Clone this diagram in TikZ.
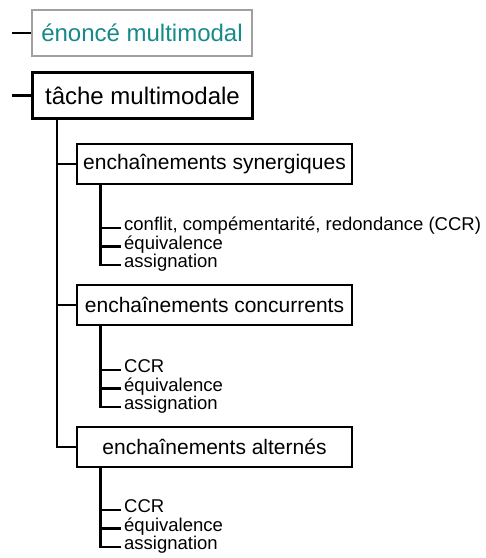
\documentclass[tikz,border=0pt]{standalone}
\usepackage{fontspec}
\setmainfont{Liberation Sans}
\definecolor{tealtext}{RGB}{22,138,138}
\definecolor{boxgray}{RGB}{160,160,160}
\begin{document}
\begin{tikzpicture}[x=1pt,y=-1pt,
  conn/.style={line width=2.4pt},
  topbox/.style={draw, line width=2.8pt, minimum width=220pt, minimum height=46pt, inner sep=0pt, font=\fontsize{24}{28}\selectfont},
  graybox/.style={topbox, draw=boxgray, line width=2.2pt, text=tealtext},
  midbox/.style={draw, line width=2.8pt, minimum width=275pt, minimum height=40pt, inner sep=0pt, font=\fontsize{21}{25}\selectfont},
  item/.style={anchor=mid west, inner xsep=3pt, inner ysep=0pt, font=\fontsize{18.5}{22}\selectfont}]
\useasboundingbox (0,0) rectangle (486,558);
% top level
\node[graybox] (enonce) at (142,33) {énoncé multimodal};
\coordinate (enl) at (12,33);
\draw[conn] (enl) -- (enonce.west);
\node[topbox] (tache) at (142.5,95.5) {tâche multimodale};
\coordinate (tl) at (12,95.5);
\draw[conn] (tl) -- (tache.west);
% second level
\node[midbox] (syn) at (214.5,164) {enchaînements synergiques};
\node[midbox] (conc) at (214.5,305) {enchaînements concurrents};
\node[midbox] (alt) at (214.5,447) {enchaînements alternés};
\coordinate (trunk) at ([xshift=26pt]tache.south west);
\draw[conn] (trunk) |- (alt.west);
\draw[conn] (trunk |- syn.west) -- (syn.west);
\draw[conn] (trunk |- conc.west) -- (conc.west);
% synergiques items
\node[item] (s1) at (121,228) {conflit, compémentarité, redondance (CCR)};
\node[item] (s2) at (121,246.5) {équivalence};
\node[item] (s3) at (121,265) {assignation};
\coordinate (st) at ([xshift=25pt]syn.south west);
\draw[conn] (st) |- (s3.mid west);
\draw[conn] (st |- s1.mid west) -- (s1.mid west);
\draw[conn] (st |- s2.mid west) -- (s2.mid west);
% concurrents items
\node[item] (c1) at (121,370) {CCR};
\node[item] (c2) at (121,388.5) {équivalence};
\node[item] (c3) at (121,407) {assignation};
\coordinate (ct) at ([xshift=25pt]conc.south west);
\draw[conn] (ct) |- (c3.mid west);
\draw[conn] (ct |- c1.mid west) -- (c1.mid west);
\draw[conn] (ct |- c2.mid west) -- (c2.mid west);
% alternes items
\node[item] (a1) at (121,510) {CCR};
\node[item] (a2) at (121,528.5) {équivalence};
\node[item] (a3) at (121,547) {assignation};
\coordinate (at) at ([xshift=25pt]alt.south west);
\draw[conn] (at) |- (a3.mid west);
\draw[conn] (at |- a1.mid west) -- (a1.mid west);
\draw[conn] (at |- a2.mid west) -- (a2.mid west);
\end{tikzpicture}
\end{document}
